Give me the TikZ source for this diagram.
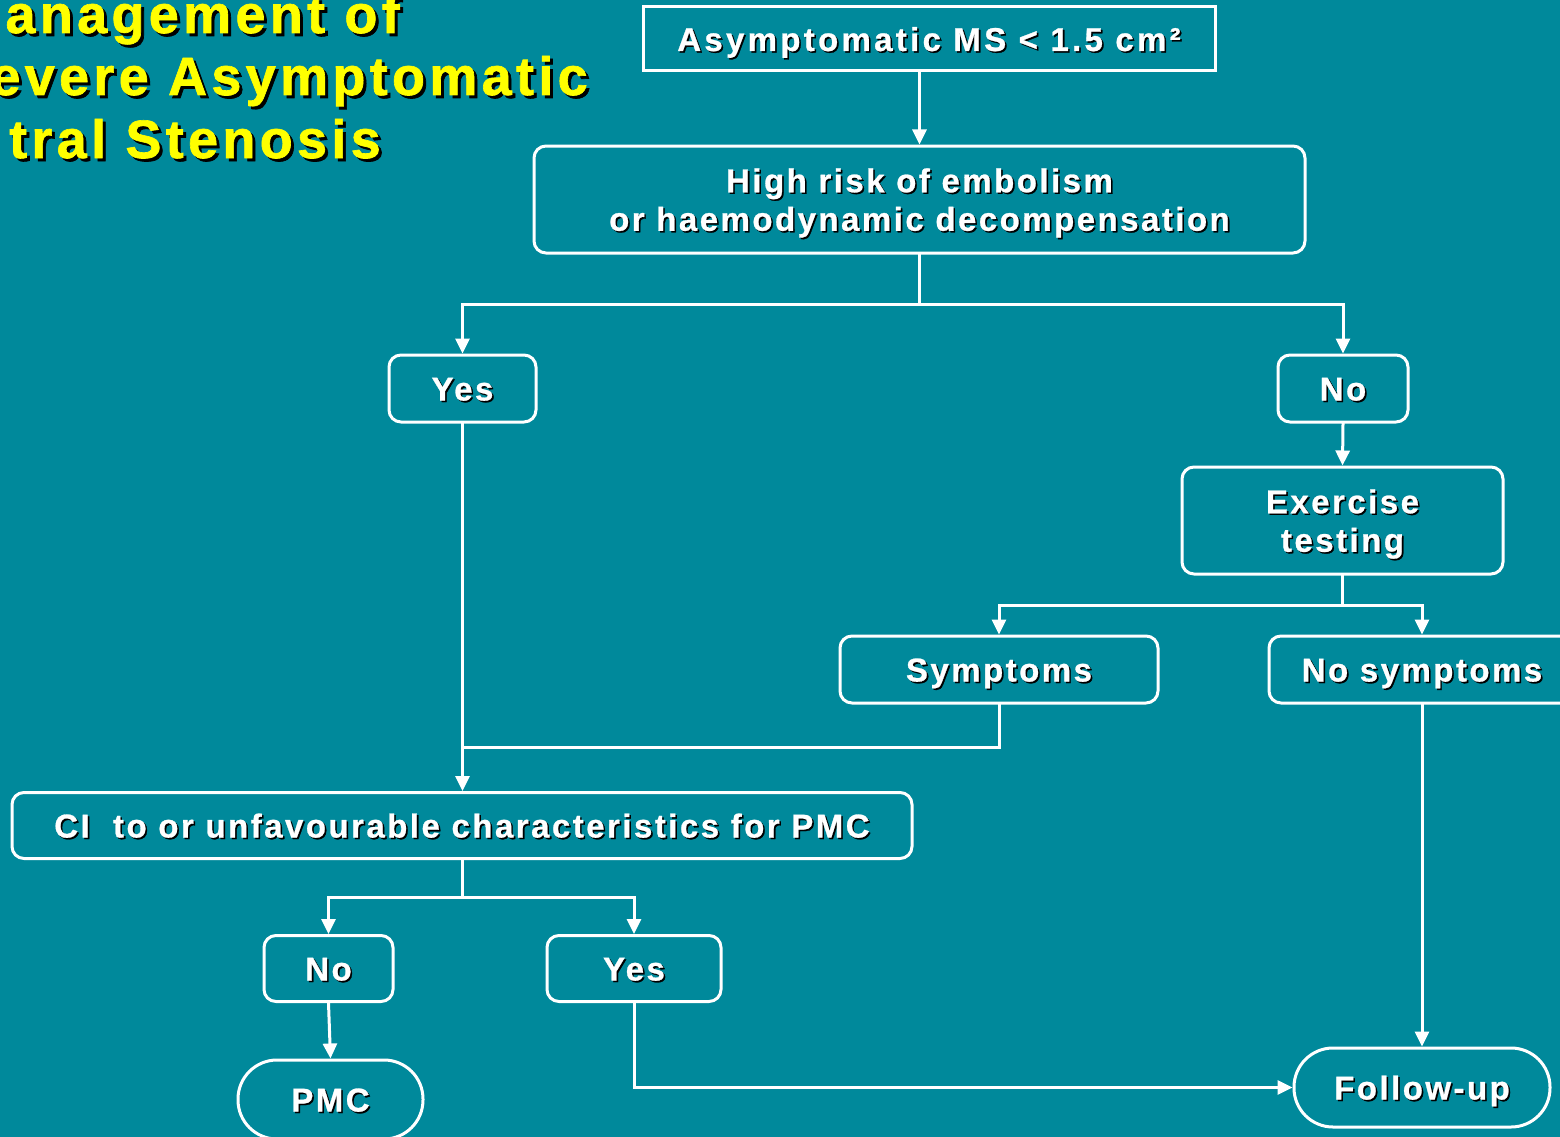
\documentclass[tikz,border=0pt]{standalone}
\usepackage{fontspec}
\setmainfont{Liberation Sans}
\newfontfamily\boxfont{Liberation Sans}[LetterSpace=7.5, FakeBold=0.8]
\newfontfamily\wideboxfont{Liberation Sans}[LetterSpace=10, FakeBold=0.8]
\newfontfamily\headfont{Liberation Sans}[LetterSpace=8, FakeBold=1.2]
\usetikzlibrary{arrows.meta}

\definecolor{slidebg}{RGB}{0,137,155}
\definecolor{headyellow}{RGB}{255,255,0}

\tikzset{
  every node/.style={inner sep=0pt},
  flowbox/.style={draw=white, line width=3pt, rounded corners=12pt, outer sep=1.5pt,
    text=white, align=center, text height=24pt, text depth=0pt,
    font=\boxfont\bfseries\fontsize{33}{38.5}\selectfont},
  twolines/.style={text height=62.5pt},
  squarebox/.style={flowbox, sharp corners, font=\wideboxfont\bfseries\fontsize{33}{38.5}\selectfont},
  pill/.style={flowbox, rounded corners=39pt},
  headline/.style={anchor=base east, text=headyellow,
    font=\headfont\bfseries\fontsize{54}{62}\selectfont},
  wire/.style={draw=white, line width=3pt, line cap=rect},
  arr/.style={wire, -{Triangle[width=14pt,length=15pt]}},
}

% text with a dark drop shadow: style, name, position, text, shadow offset
\newcommand\shadednode[5]{%
  \node[#1, draw=none, text=black] at ([shift={(#5,-#5)}]#3) {#4};
  \node[#1] (#2) at (#3) {#4};}

\begin{document}
\begin{tikzpicture}[x=1pt, y=-1pt]
  \useasboundingbox (0,0) rectangle (1560,1137);
  \clip (0,0) rectangle (1560,1137);
  \fill[slidebg] (0,0) rectangle (1560,1137);

  % heading
  \shadednode{headline}{h1}{400,33}{anagement of}{3pt}
  \shadednode{headline}{h2}{588,95}{evere Asymptomatic}{3pt}
  \shadednode{headline}{h3}{381,158}{tral Stenosis}{3pt}

  % boxes
  \shadednode{squarebox, minimum width=572pt, minimum height=64pt}{top}{929,39}{Asymptomatic MS < 1.5 cm²}{1.6pt}
  \shadednode{flowbox, twolines, minimum width=771pt, minimum height=107pt}{risk}{919.5,199.5}{High risk of embolism\\or haemodynamic decompensation}{1.6pt}
  \shadednode{flowbox, minimum width=147pt, minimum height=67pt}{yes1}{462.5,388.5}{Yes}{1.6pt}
  \shadednode{flowbox, minimum width=130pt, minimum height=67pt}{no1}{1343,388.5}{No}{1.6pt}
  \shadednode{flowbox, twolines, minimum width=321pt, minimum height=107pt}{exer}{1342.5,520.5}{Exercise\\testing}{1.6pt}
  \shadednode{flowbox, minimum width=318pt, minimum height=67pt}{symp}{999,669.5}{Symptoms}{1.6pt}
  \shadednode{flowbox, minimum width=306pt, minimum height=67pt}{nosymp}{1422,669.5}{No symptoms}{1.6pt}
  \shadednode{flowbox, minimum width=900pt, minimum height=66pt}{ci}{462,825.5}{CI~ to or unfavourable characteristics for PMC}{1.6pt}
  \shadednode{flowbox, minimum width=129pt, minimum height=66pt}{no2}{328.5,968.5}{No}{1.6pt}
  \shadednode{flowbox, minimum width=174pt, minimum height=66pt}{yes2}{634,968.5}{Yes}{1.6pt}
  \shadednode{pill, minimum width=185pt, minimum height=79pt}{pmc}{330.5,1099.5}{PMC}{1.6pt}
  \shadednode{pill, minimum width=256pt, minimum height=79pt}{follow}{1422,1087.5}{Follow-up}{1.6pt}

  % junction points of the branching connectors
  \coordinate (j1) at (919.5,304);
  \coordinate (j2) at (1342.5,605);
  \coordinate (j3) at (462.5,747);
  \coordinate (j4) at (462,897);

  % connectors
  \draw[arr] (risk.north |- top.south) -- (risk.north);
  \draw[wire] (risk.south) -- (j1);
  \draw[arr] (j1) -| (yes1.north);
  \draw[arr] (j1) -| (no1.north);
  \draw[arr] (no1.south) -- (exer.north);
  \draw[wire] (exer.south) -- (j2);
  \draw[arr] (j2) -| (symp.north);
  \draw[arr] (j2) -| (nosymp.north);
  \draw[arr] (yes1.south) -- (yes1.south |- ci.north);
  \draw[wire] (symp.south) |- (j3);
  \draw[wire] (ci.south) -- (j4);
  \draw[arr] (j4) -| (no2.north);
  \draw[arr] (j4) -| (yes2.north);
  \draw[arr] (no2.south) -- (pmc.north);
  \draw[arr] (yes2.south) |- (follow.west);
  \draw[arr] (nosymp.south) -- (follow.north);
\end{tikzpicture}
\end{document}
